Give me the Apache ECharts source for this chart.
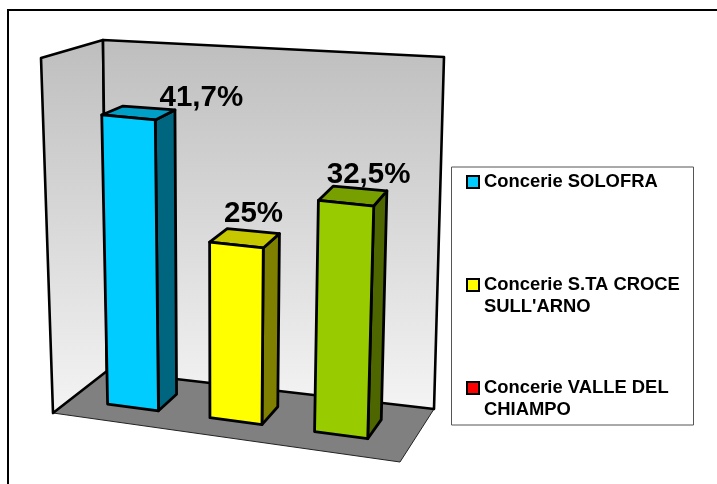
<!DOCTYPE html>
<html><head><meta charset="utf-8">
<style>html,body{margin:0;padding:0;background:#fff}#c{width:717px;height:484px}</style>
<script src="https://cdn.jsdelivr.net/npm/echarts@6/dist/echarts.min.js"></script>
</head><body><div id="c"></div>
<script>
const seriesNames = ["Concerie SOLOFRA", "Concerie S.TA CROCE\nSULL'ARNO", "Concerie VALLE DEL\nCHIAMPO"];
const values = [41.7, 25, 32.5];
const valueLabels = ["41,7%", "25%", "32,5%"];

const legendColors = ['#00CCFF', '#FFFF00', '#FF0000'];
const frontColors = ['#00CCFF', '#FFFF00', '#99CC00'];
const topColors = ['#009FC7', '#C7C700', '#779F00'];
const sideColors = ['#006680', '#808000', '#4D6600'];

// 3D box corners on the page
const box = {
  f00: [53, 413], f10: [400, 462], f01: [41, 58], f11: [413, 95],
  b00: [107, 371], b10: [434, 409], b01: [103, 40], b11: [444, 57]
};
const lerp = (a, b, t) => [a[0] + (b[0] - a[0]) * t, a[1] + (b[1] - a[1]) * t];
function project(u, v, w) {
  const uw = u - 0.036 * u * (1 - u);
  const f = lerp(lerp(box.f00, box.f10, uw), lerp(box.f01, box.f11, uw), v);
  const b = lerp(lerp(box.b00, box.b10, uw), lerp(box.b01, box.b11, uw), v);
  return lerp(f, b, w);
}
const W0 = 0.33, W1 = 0.7, HALF = 0.25;
const labelShift = [[63, -15], [9, -24], [16, -21]];
const font = 'Liberation Sans, Arial, sans-serif';

function toUnit(api, params, x, y) {
  const p = api.coord([x, y]);
  const s = params.coordSys;
  return [(p[0] - s.x) / s.width, (s.y + s.height - p[1]) / s.height];
}
function poly(points, fill, lw) {
  return { type: 'polygon', shape: { points }, style: { fill, stroke: '#000', lineWidth: lw, lineJoin: 'round' } };
}
function barRenderer(i) {
  return function (params, api) {
    const x = api.value(0), y = api.value(1);
    const [u0, v] = toUnit(api, params, x - HALF, y);
    const [u1] = toUnit(api, params, x + HALF, y);
    const fbl = project(u0, 0, W0), fbr = project(u1, 0, W0);
    const ftl = project(u0, v, W0), ftr = project(u1, v, W0);
    const bbr = project(u1, 0, W1), btl = project(u0, v, W1), btr = project(u1, v, W1);
    const c = [(ftl[0] + btr[0]) / 2, (ftl[1] + btr[1]) / 2];
    return { type: 'group', children: [
      poly([ftr, btr, bbr, fbr], sideColors[i], 2.8),
      poly([ftl, btl, btr, ftr], topColors[i], 2.8),
      poly([ftl, ftr, fbr, fbl], frontColors[i], 2.8),
      { type: 'text', z2: 50, style: {
        text: valueLabels[i], x: c[0] + labelShift[i][0], y: c[1] + labelShift[i][1],
        fill: '#000', font: 'bold 29.5px ' + font, align: 'center', verticalAlign: 'middle' } }
    ] };
  };
}
function wallRenderer(params, api) {
  const grad = () => new echarts.graphic.LinearGradient(0, 0, 0, 1, [
    { offset: 0, color: '#BEBEBE' }, { offset: 1, color: '#F4F4F4' }]);
  const P = project;
  return { type: 'group', children: [
    { type: 'polygon', shape: { points: [P(0,0,0), P(1,0,0), P(1,0,1), P(0,0,1)] },
      style: { fill: '#808080', stroke: '#222', lineWidth: 1 } },
    poly([P(0,1,0), P(0,1,1), P(0,0,1), P(0,0,0)], grad(), 2.6),
    poly([P(0,1,1), P(1,1,1), P(1,0,1), P(0,0,1)], grad(), 2.6)
  ] };
}

const barSeries = seriesNames.map((name, i) => ({
  name, type: 'custom', coordinateSystem: 'cartesian2d', z: 3, silent: true,
  itemStyle: { color: legendColors[i] },
  renderItem: barRenderer(i),
  encode: { x: 0, y: 1 },
  data: [[i, values[i]]]
}));

const chart = echarts.init(document.getElementById('c'), null, { renderer: 'canvas' });
chart.setOption({
  animation: false,
  backgroundColor: '#fff',
  grid: { left: 100, top: 100, width: 300, height: 300 },
  xAxis: { type: 'value', min: -0.615, max: 2.655, show: false },
  yAxis: { type: 'value', min: 0, max: 50.3, show: false },
  legend: {
    data: seriesNames, orient: 'vertical', left: 466, top: 149, padding: 0,
    itemWidth: 12, itemHeight: 12, itemGap: 37, icon: 'rect', selectedMode: false,
    itemStyle: { borderColor: '#000', borderWidth: 2 },
    formatter: n => { const l = n.split('\n'); return ' \n' + l[0] + '\n' + (l[1] || ' '); },
    textStyle: { fontFamily: font, fontWeight: 'bold', fontSize: 18.4, lineHeight: 22, color: '#000' }
  },
  graphic: [
    { type: 'rect', z: -1, shape: { x: 8, y: 10, width: 760, height: 520 },
      style: { fill: 'none', stroke: '#000', lineWidth: 2 } },
    { type: 'rect', z: -1, shape: { x: 451.5, y: 167, width: 242, height: 258 },
      style: { fill: '#fff', stroke: '#555', lineWidth: 1 } }
  ],
  series: [{
    name: 'walls', type: 'custom', coordinateSystem: 'cartesian2d', z: 1, silent: true,
    renderItem: wallRenderer, encode: { x: 0, y: 1 }, data: [[0, 0]]
  }].concat(barSeries)
});
</script></body></html>
